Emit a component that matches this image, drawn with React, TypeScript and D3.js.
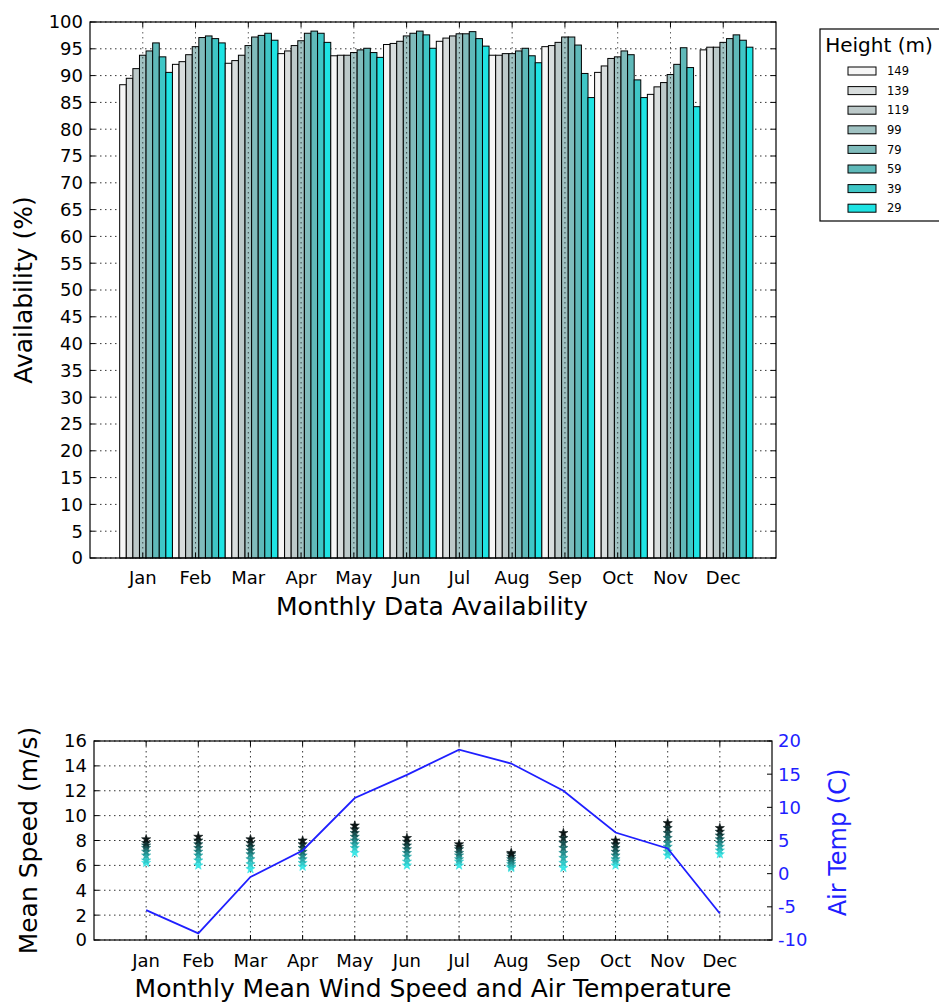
import React from "react";
import * as d3 from "d3";

const months = ["Jan", "Feb", "Mar", "Apr", "May", "Jun", "Jul", "Aug", "Sep", "Oct", "Nov", "Dec"];
const heights = ["149", "139", "119", "99", "79", "59", "39", "29"];

// Availability (%) per measurement height, Jan..Dec
const avail149 = [88.3, 92.1, 92.3, 94.1, 93.7, 95.8, 96.4, 93.8, 95.4, 90.6, 86.5, 94.8];
const avail139 = [89.5, 92.6, 92.8, 94.6, 93.8, 96.0, 97.0, 93.8, 95.6, 91.8, 87.9, 95.3];
const avail119 = [91.3, 93.9, 93.8, 95.6, 93.8, 96.4, 97.4, 94.1, 96.2, 93.2, 88.7, 95.3];
const avail99 = [93.8, 95.4, 95.6, 96.5, 94.3, 97.4, 97.8, 94.1, 97.2, 93.5, 90.2, 96.2];
const avail79 = [94.6, 97.1, 97.2, 97.9, 94.8, 97.9, 97.8, 94.6, 97.2, 94.6, 92.1, 96.9];
const avail59 = [96.1, 97.4, 97.5, 98.3, 95.1, 98.3, 98.2, 95.1, 95.7, 93.9, 95.2, 97.6];
const avail39 = [93.5, 96.9, 97.9, 97.9, 94.3, 97.6, 96.9, 93.7, 90.4, 89.2, 91.5, 96.6];
const avail29 = [90.6, 96.1, 96.6, 96.2, 93.4, 95.1, 95.5, 92.4, 85.9, 85.9, 84.2, 95.3];
const availability = [avail149, avail139, avail119, avail99, avail79, avail59, avail39, avail29];

// Mean wind speed (m/s) per height, Jan..Dec
const speed149 = [8.1, 8.3, 8.1, 8.0, 9.2, 8.2, 7.7, 7.0, 8.6, 8.0, 9.4, 9.0];
const speed139 = [7.8, 8.0, 7.8, 7.7, 8.9, 7.9, 7.5, 6.9, 8.2, 7.7, 9.0, 8.7];
const speed119 = [7.6, 7.7, 7.5, 7.4, 8.6, 7.6, 7.3, 6.7, 7.8, 7.4, 8.6, 8.4];
const speed99 = [7.4, 7.4, 7.2, 7.1, 8.3, 7.3, 7.0, 6.5, 7.4, 7.1, 8.2, 8.1];
const speed79 = [7.1, 7.1, 6.9, 6.8, 8.0, 7.0, 6.8, 6.3, 7.0, 6.8, 7.8, 7.8];
const speed59 = [6.8, 6.8, 6.5, 6.5, 7.7, 6.7, 6.5, 6.1, 6.6, 6.5, 7.5, 7.5];
const speed39 = [6.4, 6.4, 6.1, 6.2, 7.4, 6.3, 6.3, 5.9, 6.2, 6.3, 7.1, 7.2];
const speed29 = [6.2, 6.0, 5.7, 5.9, 7.0, 6.0, 6.0, 5.8, 5.8, 6.0, 6.8, 6.9];
const speeds = [speed149, speed139, speed119, speed99, speed79, speed59, speed39, speed29];

// Air temperature (C), Jan..Dec
const airTemp = [-5.5, -9.0, -0.5, 3.5, 11.4, 14.9, 18.7, 16.6, 12.5, 6.2, 3.8, -6.0];

const availTicks = d3.range(0, 101, 5);
const speedTicks = [0, 2, 4, 6, 8, 10, 12, 14, 16];
const tempTicks = [-10, -5, 0, 5, 10, 15, 20];

const barColors = ["#f6f6f6", "#d8dddd", "#bcc9c9", "#a0c2c2", "#80bcbc", "#5fb9b9", "#3fc6c6", "#1ee3e3"];
const pointColors = ["#0b1515", "#103030", "#165050", "#1c6e6e", "#238e8e", "#2aabab", "#31c9c9", "#3ae6e6"];

const FONT = "DejaVu Sans";
const GRID_DASH = "1.5,3.5";

export default function App() {
  // ---- top chart ----
  const T = { left: 90, top: 22, right: 776, bottom: 558 };
  const xT = d3.scaleLinear().domain([0, 13]).range([T.left, T.right]);
  const yT = d3.scaleLinear().domain([0, 100]).range([T.bottom, T.top]);
  const bw = 0.125;

  // ---- bottom chart ----
  const B = { left: 94, top: 741, right: 772, bottom: 940 };
  const xB = d3.scaleLinear().domain([0, 13]).range([B.left, B.right]);
  const yS = d3.scaleLinear().domain([0, 16]).range([B.bottom, B.top]);
  const yTmp = d3.scaleLinear().domain([-10, 20]).range([B.bottom, B.top]);
  const tempLine = d3
    .line<number>()
    .x((_, i) => xB(i + 1))
    .y((d) => yTmp(d))(airTemp);
  const star = d3.symbol().type(d3.symbolStar).size(26)();

  const tickLen = 5;
  const blue = "#1f1fff";

  return (
    <svg
      width={939}
      height={1003}
      style={{ position: "absolute", left: 0, top: 0, background: "#fff" }}
      fontFamily={FONT}
    >
      <rect x={0} y={0} width={939} height={1003} fill="#fff" />

      {/* ===== TOP CHART ===== */}
      {availTicks.map((t) => (
        <line key={"hg" + t} x1={T.left} x2={T.right} y1={yT(t)} y2={yT(t)} stroke="#000" strokeWidth={0.8} strokeDasharray={GRID_DASH} />
      ))}
      {months.map((m, mi) =>
        availability.map((series, k) => {
          const x0 = xT(mi + 1 - 3.5 * bw + k * bw);
          const x1 = xT(mi + 1 - 3.5 * bw + (k + 1) * bw);
          return (
            <rect
              key={m + k}
              x={x0}
              y={yT(series[mi])}
              width={x1 - x0}
              height={yT(0) - yT(series[mi])}
              fill={barColors[k]}
              stroke="#000"
              strokeWidth={1}
            />
          );
        })
      )}
      {months.map((m, i) => (
        <line key={"vg" + m} x1={xT(i + 1)} x2={xT(i + 1)} y1={T.top} y2={T.bottom} stroke="#000" strokeWidth={0.8} strokeDasharray={GRID_DASH} opacity={0.8} />
      ))}
      {availTicks.map((t) => (
        <g key={"yt" + t}>
          <line x1={T.left} x2={T.left + tickLen} y1={yT(t)} y2={yT(t)} stroke="#000" />
          <line x1={T.right} x2={T.right - tickLen} y1={yT(t)} y2={yT(t)} stroke="#000" />
          <text x={T.left - 7} y={yT(t)} dy="0.36em" textAnchor="end" fontSize={18}>
            {t}
          </text>
        </g>
      ))}
      {months.map((m, i) => (
        <g key={"xt" + m}>
          <line x1={xT(i + 1)} x2={xT(i + 1)} y1={T.bottom} y2={T.bottom - tickLen} stroke="#000" />
          <line x1={xT(i + 1)} x2={xT(i + 1)} y1={T.top} y2={T.top + tickLen} stroke="#000" />
          <text x={xT(i + 1)} y={T.bottom + 26} textAnchor="middle" fontSize={18}>
            {m}
          </text>
        </g>
      ))}
      <rect x={T.left} y={T.top} width={T.right - T.left} height={T.bottom - T.top} fill="none" stroke="#000" strokeWidth={1.2} />
      <text x={(T.left + T.right) / 2 - 1} y={615} textAnchor="middle" fontSize={25}>
        Monthly Data Availability
      </text>
      <text transform={`translate(32,${(T.top + T.bottom) / 2}) rotate(-90)`} textAnchor="middle" fontSize={25}>
        Availability (%)
      </text>

      {/* legend */}
      <g>
        <rect x={820} y={29} width={130} height={192} fill="#fff" stroke="#000" strokeWidth={1.2} />
        <text x={879} y={52} textAnchor="middle" fontSize={20}>
          Height (m)
        </text>
        {heights.map((h, k) => (
          <g key={"lg" + h}>
            <rect x={848} y={67 + k * 19.6} width={28} height={8} fill={barColors[k]} stroke="#000" strokeWidth={1} />
            <text x={887} y={71 + k * 19.6} dy="0.36em" fontSize={11.5}>
              {h}
            </text>
          </g>
        ))}
      </g>

      {/* ===== BOTTOM CHART ===== */}
      {speedTicks.map((t) => (
        <line key={"bhg" + t} x1={B.left} x2={B.right} y1={yS(t)} y2={yS(t)} stroke="#000" strokeWidth={0.8} strokeDasharray={GRID_DASH} />
      ))}
      {months.map((m, i) => (
        <line key={"bvg" + m} x1={xB(i + 1)} x2={xB(i + 1)} y1={B.top} y2={B.bottom} stroke="#000" strokeWidth={0.8} strokeDasharray={GRID_DASH} />
      ))}
      {months.map((m, i) =>
        speeds
          .map((s, k) => ({ s, k }))
          .reverse()
          .map(({ s, k }) => (
            <path key={"pt" + m + k} d={star || ""} transform={`translate(${xB(i + 1)},${yS(s[i])})`} fill={pointColors[k]} stroke={pointColors[k]} strokeWidth={0.6} />
          ))
      )}
      <path d={tempLine || ""} fill="none" stroke={blue} strokeWidth={1.8} />
      {speedTicks.map((t) => (
        <g key={"syt" + t}>
          <line x1={B.left} x2={B.left + tickLen} y1={yS(t)} y2={yS(t)} stroke="#000" />
          <text x={B.left - 7} y={yS(t)} dy="0.36em" textAnchor="end" fontSize={18}>
            {t}
          </text>
        </g>
      ))}
      {tempTicks.map((t) => (
        <g key={"tyt" + t}>
          <line x1={B.right} x2={B.right - tickLen} y1={yTmp(t)} y2={yTmp(t)} stroke="#000" />
          <text x={B.right + 6} y={yTmp(t)} dy="0.36em" textAnchor="start" fontSize={18} fill={blue}>
            {t}
          </text>
        </g>
      ))}
      {months.map((m, i) => (
        <g key={"bxt" + m}>
          <line x1={xB(i + 1)} x2={xB(i + 1)} y1={B.bottom} y2={B.bottom - tickLen} stroke="#000" />
          <line x1={xB(i + 1)} x2={xB(i + 1)} y1={B.top} y2={B.top + tickLen} stroke="#000" />
          <text x={xB(i + 1)} y={B.bottom + 27} textAnchor="middle" fontSize={18}>
            {m}
          </text>
        </g>
      ))}
      <rect x={B.left} y={B.top} width={B.right - B.left} height={B.bottom - B.top} fill="none" stroke="#000" strokeWidth={1.2} />
      <text x={(B.left + B.right) / 2} y={997} textAnchor="middle" fontSize={25}>
        Monthly Mean Wind Speed and Air Temperature
      </text>
      <text transform={`translate(37,${(B.top + B.bottom) / 2}) rotate(-90)`} textAnchor="middle" fontSize={25}>
        Mean Speed (m/s)
      </text>
      <text transform={`translate(846,${(B.top + B.bottom) / 2 + 2}) rotate(-90)`} textAnchor="middle" fontSize={24} fill={blue}>
        Air Temp (C)
      </text>
    </svg>
  );
}
